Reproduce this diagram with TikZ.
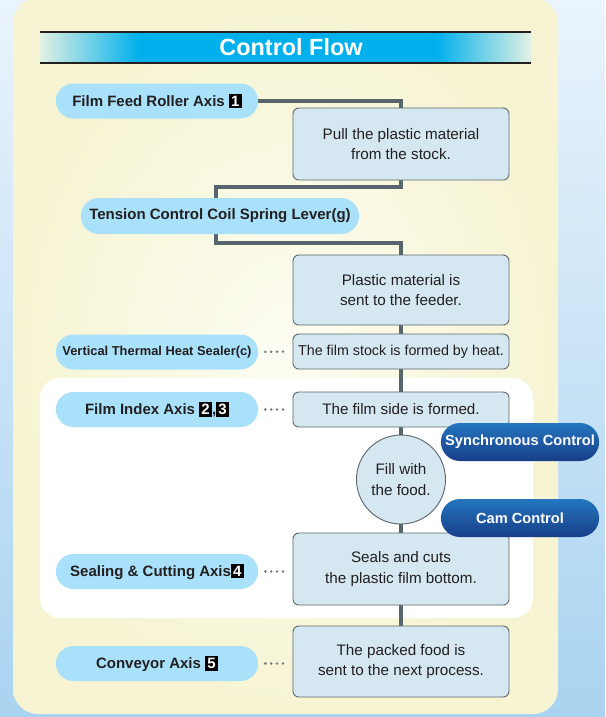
\documentclass[tikz,border=0pt]{standalone}
\usepackage{fontspec}
\setmainfont{Liberation Sans}
\usepackage{xcolor}
\usetikzlibrary{
    positioning,
    shapes.misc,
    calc
}
\definecolor{skytop}{HTML}{EAF4FC}
\definecolor{skybot}{HTML}{A9D3F0}
\definecolor{panelin}{HTML}{FDFDF3}
\definecolor{panelout}{HTML}{F6F4D2}
\definecolor{bandpale}{HTML}{E2F1E2}
\definecolor{bandcyan}{HTML}{00B0EC}
\definecolor{axisblue}{HTML}{A9E1FA}
\definecolor{boxfill}{HTML}{D5E7F1}
\definecolor{boxline}{HTML}{60686C}
\definecolor{wire}{HTML}{56666C}
\definecolor{inktext}{HTML}{231F20}
\definecolor{ctrltop}{HTML}{2476BE}
\definecolor{ctrlbot}{HTML}{183E88}
\newcommand{\axisno}[1]{{\setlength{\fboxsep}{1.9pt}\colorbox{black}{\textcolor{white}{#1}}}}
\pgfdeclarelayer{back}
\pgfdeclarelayer{wires}
\pgfsetlayers{back,wires,main}
\tikzset{
    axispill/.style={rounded rectangle, fill=axisblue, text=inktext,
        minimum width=6.3cm, minimum height=1.05cm,
        font=\fontsize{12.8}{15}\selectfont\bfseries},
    stepbox/.style={draw=boxline, line width=0.8pt, fill=boxfill, text=inktext,
        rounded corners=5pt, minimum width=6.48cm, minimum height=2.16cm,
        align=center, font=\fontsize{13}{17.5}\selectfont},
    ctrlpill/.style={rounded rectangle, top color=ctrltop, bottom color=ctrlbot,
        text=white, minimum width=4.98cm, minimum height=1.14cm,
        font=\fontsize{12.5}{15}\selectfont\bfseries},
    flow/.style={draw=wire, line width=2.6pt},
    link/.style={draw=wire!85, line width=2.4pt, line cap=round,
        dash pattern=on 0pt off 5pt, shorten <=6pt, shorten >=5pt}
}

\begin{document}
\begin{tikzpicture}[x=0.03cm, y=-0.03cm]
    \useasboundingbox (0,0) rectangle (605,717);

    % backdrop and panels
    \begin{pgfonlayer}{back}
        \shade[top color=skytop, bottom color=skybot] (0,0) rectangle (605,717);
        \shade[inner color=panelin, outer color=panelout, rounded corners=0.75cm]
            (13,-2) rectangle (558,714);
        \fill[white, rounded corners=0.6cm] (40,378) rectangle (533,618);
        % title band
        \shade[left color=bandpale, right color=bandcyan] (40,32) rectangle (139,63);
        \fill[bandcyan] (139,32) rectangle (436,63);
        \shade[left color=bandcyan, right color=bandpale] (436,32) rectangle (531,63);
        \draw[line width=1.7pt, inktext] (40,32) -- (531,32) (40,63) -- (531,63);
    \end{pgfonlayer}
    \node[text=white, font=\fontsize{20}{23}\selectfont\bfseries] (title) at (291,47.5) {Control Flow};

    % axes and steps
    \node[axispill] (feed) at (157,101) {Film Feed Roller Axis \axisno{1}};
    \node[stepbox] (pull) at (401,144) {Pull the plastic material\\from the stock.};
    \node[axispill, minimum width=8.58cm, minimum height=1.08cm] (tension) at (220,216) {Tension Control Coil Spring Lever(g)};
    \node[stepbox, minimum height=2.1cm] (feeder) at (401,290) {Plastic material is\\sent to the feeder.};
    \node[axispill, font=\fontsize{11}{13}\selectfont\bfseries] (sealer) at (157,352) {Vertical Thermal Heat Sealer(c)};
    \node[stepbox, minimum height=1.05cm, inner xsep=1pt, font=\fontsize{12.2}{15}\selectfont] (formed) at (401,351.5) {The film stock is formed by heat.};
    \node[axispill] (index) at (157,409.5) {Film Index Axis \axisno{2},\axisno{3}};
    \node[stepbox, minimum height=1.05cm] (side) at (401,409.5) {The film side is formed.};
    \node[circle, draw=boxline, line width=0.8pt, fill=boxfill, text=inktext, minimum size=2.67cm,
        align=center, inner sep=0pt, font=\fontsize{13}{17.5}\selectfont] (fill) at (401,479.5) {Fill with\\the food.};
    \node[stepbox] (seal) at (401,569) {Seals and cuts\\the plastic film bottom.};
    \node[axispill] (cutting) at (157,571.5) {Sealing \& Cutting Axis\axisno{4}};
    \node[stepbox, minimum height=2.13cm] (packed) at (401,661.5) {The packed food is\\sent to the next process.};
    \node[axispill] (conveyor) at (157,663.5) {Conveyor Axis \axisno{5}};

    \node[ctrlpill] (sync) at (520,442) {Synchronous Control};
    \node[ctrlpill] (cam) at (520,518) {Cam Control};

    % connectors
    \coordinate (kneeA) at (216,187);
    \coordinate (kneeB) at (216,243);
    \begin{pgfonlayer}{wires}
        \draw[flow] (feed.east) -| (pull.north);
        \draw[flow] (pull.south) |- (kneeA) -- (kneeB) -| (feeder.north);
        \draw[flow] (feeder.south) -- (formed.north);
        \draw[flow] (formed.south) -- (side.north);
        \draw[flow] (side.south) -- (fill.north);
        \draw[flow] (fill.south) -- (seal.north);
        \draw[flow] (seal.south) -- (packed.north);
    \end{pgfonlayer}
    \draw[link] (sealer.east) -- (formed.west);
    \draw[link] (index.east) -- (side.west);
    \draw[link] (cutting.east) -- (cutting.east -| seal.west);
    \draw[link] (conveyor.east) -- (conveyor.east -| packed.west);
\end{tikzpicture}
\end{document}
